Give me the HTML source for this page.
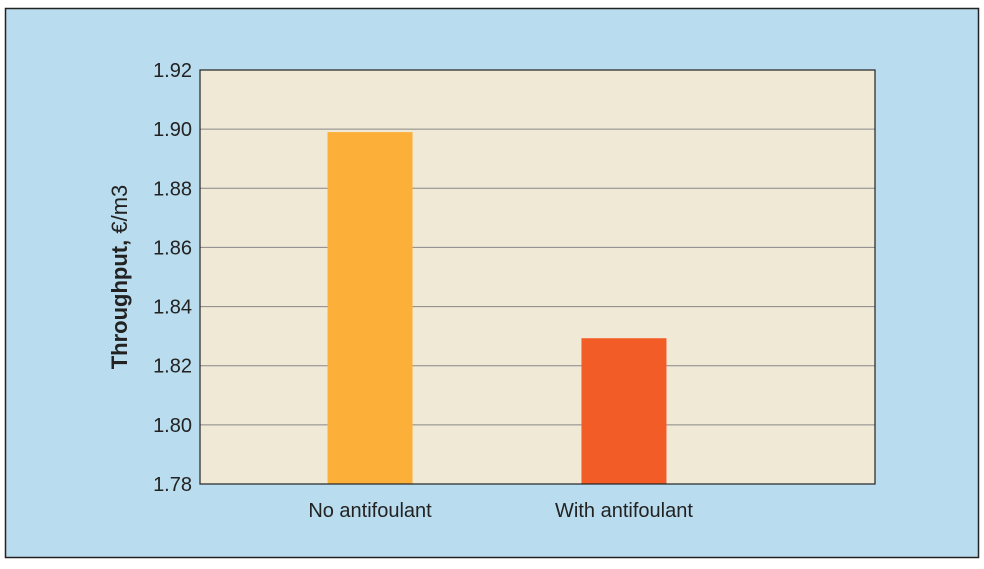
<!DOCTYPE html>
<html><head><meta charset="utf-8"><style>
body{margin:0;background:#fff;width:984px;height:564px;overflow:hidden;font-family:"Liberation Sans",sans-serif}
</style></head><body>
<svg width="984" height="564">
<rect x="5.5" y="8.5" width="973" height="549" fill="#b9dcee" stroke="#222" stroke-width="1.5"/>
<g id="g"></g>
</svg>
<script>
const categories=["No antifoulant","With antifoulant"];
const values=[1.899,1.8293];
const ticks=[1.78,1.80,1.82,1.84,1.86,1.88,1.90,1.92];
const colors=["#fdb039","#f25c27"];
const L=200,R=875,T=70,B=484,ymin=1.78,ymax=1.92;
const y=v=>B-(v-ymin)/(ymax-ymin)*(B-T);
const x=i=>L+(i+0.5)*(R-L)/(categories.length+0.66);
const g=document.getElementById('g');const ns='http://www.w3.org/2000/svg';
function mk(t,a,txt){const e=document.createElementNS(ns,t);for(const k in a)e.setAttribute(k,a[k]);if(txt!==undefined)e.textContent=txt;g.appendChild(e);return e;}
let p=mk('rect',{x:L,y:T,width:R-L,height:B-T,fill:'#f0e9d6'});


ticks.forEach(t=>{
 if(t>ymin&&t<ymax){let l=mk('line',{x1:L,x2:R,y1:y(t),y2:y(t),stroke:'#888','stroke-width':1});
 
 }
 let tx=mk('text',{x:L-8,y:y(t)+7,'text-anchor':'end','font-size':20,fill:'#222'},t.toFixed(2));
 
 
});
const centers=[369,623];
const bw=85;
categories.forEach((c,i)=>{
 const cx=L+(R-L)*(i===0?0.2519:0.6281);
 let b=mk('rect',{x:cx-bw/2,y:y(values[i]),width:bw,height:B-y(values[i]),fill:colors[i]});
 
 
 let t=mk('text',{x:cx,y:517,'text-anchor':'middle','font-size':20,fill:'#222'},c);
 
 
});
let f=mk('rect',{x:L,y:T,width:R-L,height:B-T,fill:'none',stroke:'#222','stroke-width':1.2});


let yt=mk('text',{x:0,y:0,transform:'translate(127,277) rotate(-90)','text-anchor':'middle','font-size':22,fill:'#222'});
yt.innerHTML='<tspan font-weight="bold">Throughput,</tspan> €/m3';


</script>
</body></html>
